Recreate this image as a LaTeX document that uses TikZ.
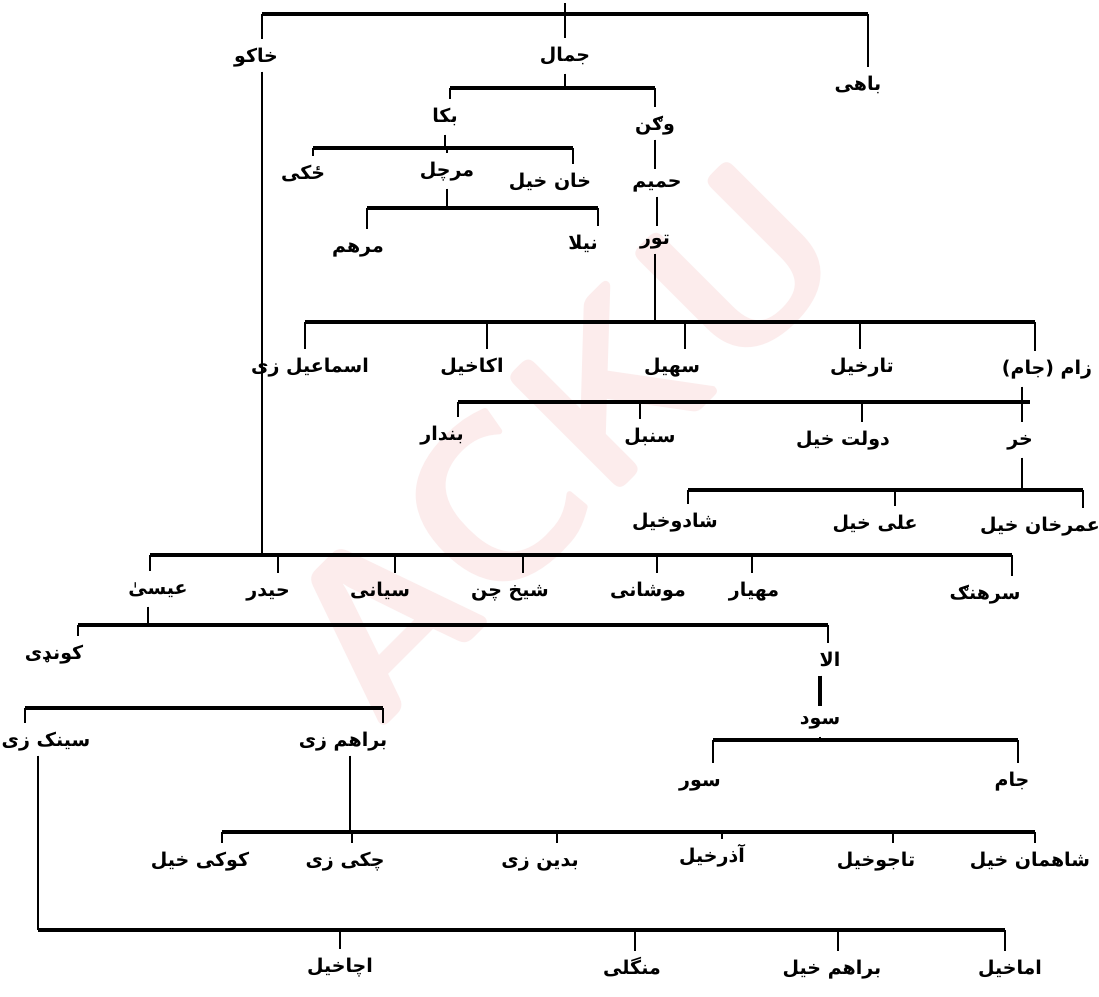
\documentclass[tikz,border=0pt]{standalone}
\usepackage{fontspec}
\newfontfamily\arabicfont[Script=Arabic]{DejaVu Sans}
\TeXXeTstate=1
\definecolor{wmcol}{RGB}{252,236,236}
\newcommand{\dropto}[3]{\coordinate (d-#3) at (#1,#2); \draw[drop] (d-#3) -- (d-#3 |- #3.north);}
\begin{document}
\begin{tikzpicture}[x=1pt,y=-1pt,
  lab/.style={font=\arabicfont\bfseries\fontsize{19}{22}\selectfont, inner sep=2pt, text height=16pt, text depth=7pt},
  barline/.style={line width=4pt},
  drop/.style={line width=2.4pt, shorten >=5pt},
  tick/.style={line width=2.4pt, shorten <=3pt}]
\useasboundingbox (0,0) rectangle (1099,996);
\fill[white] (0,0) rectangle (1099,996);
\node[rotate=45, text=wmcol, font=\sffamily\bfseries\fontsize{230}{230}\selectfont] (wm) at (560,440) {ACKU};

% ---- level 1
\node[lab] (khako) at (256,58) {\beginR خاکو\endR};
\node[lab] (jamal) at (565,57) {\beginR جمال\endR};
\node[lab] (bahi) at (858,86) {\beginR باهی\endR};
\coordinate (t0) at (565,0); \coordinate (t1) at (565,14);
\draw[barline] (262,14) -- (868,14);
\draw[tick] (t0) -- (t1);
\dropto{262}{14}{khako}
\dropto{565}{14}{jamal}
\dropto{868}{14}{bahi}

% ---- jamal
\node[lab] (baka) at (445,118) {\beginR بکا\endR};
\node[lab] (wagan) at (655,126) {\beginR وګن\endR};
\coordinate (b2) at (565,88);
\draw[barline] (450,88) -- (655,88);
\draw[tick] (jamal.south) -- (jamal.south |- b2);
\dropto{450}{88}{baka}
\dropto{655}{88}{wagan}

% ---- baka
\node[lab] (jaki) at (303,175) {\beginR ځکی\endR};
\node[lab] (marchal) at (447,172) {\beginR مرچل\endR};
\node[lab] (khankhel) at (550,183) {\beginR خان خیل\endR};
\coordinate (b3) at (447,148);
\draw[barline] (313,148) -- (573,148);
\draw[tick] (baka.south) -- (baka.south |- b3);
\dropto{313}{148}{jaki}
\dropto{447}{148}{marchal}
\dropto{573}{148}{khankhel}

% ---- marchal
\node[lab] (marham) at (358,248) {\beginR مرهم\endR};
\node[lab] (nila) at (583,245) {\beginR نیلا\endR};
\coordinate (b4) at (448,208);
\draw[barline] (367,208) -- (598,208);
\draw[tick] (marchal.south) -- (marchal.south |- b4);
\dropto{367}{208}{marham}
\dropto{598}{208}{nila}

% ---- wagan chain
\node[lab] (hamim) at (657,183) {\beginR حمیم\endR};
\node[lab] (tor) at (655,240) {\beginR تور\endR};
\draw[line width=2.5pt] (wagan.south) -- (wagan.south |- hamim.north);
\draw[line width=2.5pt] (hamim.south) -- (hamim.south |- tor.north);

% ---- tor
\node[lab] (ismail) at (310,368) {\beginR اسماعیل زی\endR};
\node[lab] (akakhel) at (472,368) {\beginR اکاخیل\endR};
\node[lab] (sohail) at (672,368) {\beginR سهیل\endR};
\node[lab] (tarkhel) at (862,368) {\beginR تارخیل\endR};
\node[lab] (zam) at (1047,370) {\beginR زام (جام)\endR};
\coordinate (b5) at (657,322);
\draw[barline] (305,322) -- (1035,322);
\draw[line width=2.5pt] (tor.south) -- (tor.south |- b5);
\dropto{305}{322}{ismail}
\dropto{487}{322}{akakhel}
\dropto{685}{322}{sohail}
\dropto{860}{322}{tarkhel}
\dropto{1035}{322}{zam}

% ---- zam
\node[lab] (bandar) at (442,436) {\beginR بندار\endR};
\node[lab] (sonbol) at (650,438) {\beginR سنبل\endR};
\node[lab] (daulat) at (843,441) {\beginR دولت خیل\endR};
\node[lab] (khar) at (1020,441) {\beginR خر\endR};
\coordinate (b6) at (1022,402);
\draw[barline] (458,402) -- (1030,402);
\draw[tick] (zam.south -| b6) -- (b6);
\dropto{458}{402}{bandar}
\dropto{640}{402}{sonbol}
\dropto{862}{402}{daulat}
\dropto{1022}{402}{khar}

% ---- khar
\node[lab] (shado) at (675,523) {\beginR شادوخیل\endR};
\node[lab] (alikhel) at (875,525) {\beginR علی خیل\endR};
\node[lab] (omar) at (1040,527) {\beginR عمرخان خیل\endR};
\coordinate (b7) at (1022,490);
\draw[barline] (688,490) -- (1083,490);
\draw[tick] (khar.south -| b7) -- (b7);
\dropto{688}{490}{shado}
\dropto{895}{490}{alikhel}
\dropto{1083}{490}{omar}

% ---- khako
\node[lab] (isa) at (158,590) {\beginR عیسیٰ\endR};
\node[lab] (haidar) at (268,592) {\beginR حیدر\endR};
\node[lab] (siyane) at (380,592) {\beginR سیانی\endR};
\node[lab] (sheikh) at (510,592) {\beginR شیخ چن\endR};
\node[lab] (mushani) at (648,592) {\beginR موشانی\endR};
\node[lab] (mahyar) at (754,592) {\beginR مهیار\endR};
\node[lab] (sarhang) at (985,595) {\beginR سرهنګ\endR};
\coordinate (b8) at (262,555);
\draw[barline] (150,555) -- (1012,555);
\draw[line width=2.5pt] (khako.south -| b8) -- (b8);
\dropto{150}{555}{isa}
\dropto{278}{555}{haidar}
\dropto{395}{555}{siyane}
\dropto{523}{555}{sheikh}
\dropto{657}{555}{mushani}
\dropto{752}{555}{mahyar}
\dropto{1012}{555}{sarhang}

% ---- isa
\node[lab] (konday) at (54,655) {\beginR کونډی\endR};
\node[lab] (ala) at (830,662) {\beginR الا\endR};
\coordinate (b9) at (148,625);
\draw[barline] (78,625) -- (828,625);
\draw[tick] (isa.south -| b9) -- (b9);
\dropto{78}{625}{konday}
\dropto{828}{625}{ala}

% ---- ala / sod
\node[lab] (sod) at (820,720) {\beginR سود\endR};
\draw[line width=3.5pt] (ala.south -| sod.north) -- (sod.north);
\node[lab] (sur) at (700,782) {\beginR سور\endR};
\node[lab] (jam) at (1012,782) {\beginR جام\endR};
\coordinate (b10) at (820,740);
\draw[barline] (713,740) -- (1018,740);
\draw[tick] (sod.south) -- (b10);
\dropto{713}{740}{sur}
\dropto{1018}{740}{jam}

% ---- konday
\node[lab] (sinak) at (46,742) {\beginR سینک زی\endR};
\node[lab] (barahamzai) at (343,742) {\beginR براهم زی\endR};
\draw[barline] (25,708) -- (383,708);
\dropto{25}{708}{sinak}
\dropto{383}{708}{barahamzai}

% ---- barahamzai
\node[lab] (koki) at (200,862) {\beginR کوکی خیل\endR};
\node[lab] (chaki) at (345,862) {\beginR چکی زی\endR};
\node[lab] (badin) at (540,862) {\beginR بدین زی\endR};
\node[lab] (azar) at (712,858) {\beginR آذرخیل\endR};
\node[lab] (tajo) at (876,862) {\beginR تاجوخیل\endR};
\node[lab] (shahman) at (1030,862) {\beginR شاهمان خیل\endR};
\coordinate (b11) at (350,832);
\draw[barline] (222,832) -- (1035,832);
\draw[line width=2.5pt] (barahamzai.south -| b11) -- (b11);
\dropto{222}{832}{koki}
\dropto{352}{832}{chaki}
\dropto{557}{832}{badin}
\dropto{722}{832}{azar}
\dropto{893}{832}{tajo}
\dropto{1035}{832}{shahman}

% ---- sinak
\node[lab] (acha) at (340,968) {\beginR اچاخیل\endR};
\node[lab] (mangali) at (632,970) {\beginR منگلی\endR};
\node[lab] (barahamkhel) at (832,970) {\beginR براهم خیل\endR};
\node[lab] (amakhel) at (1010,970) {\beginR اماخیل\endR};
\coordinate (b12) at (38,930);
\draw[barline] (38,930) -- (1005,930);
\draw[line width=2.5pt] (sinak.south -| b12) -- (b12);
\dropto{340}{930}{acha}
\dropto{635}{930}{mangali}
\dropto{838}{930}{barahamkhel}
\dropto{1005}{930}{amakhel}
\end{tikzpicture}
\end{document}
